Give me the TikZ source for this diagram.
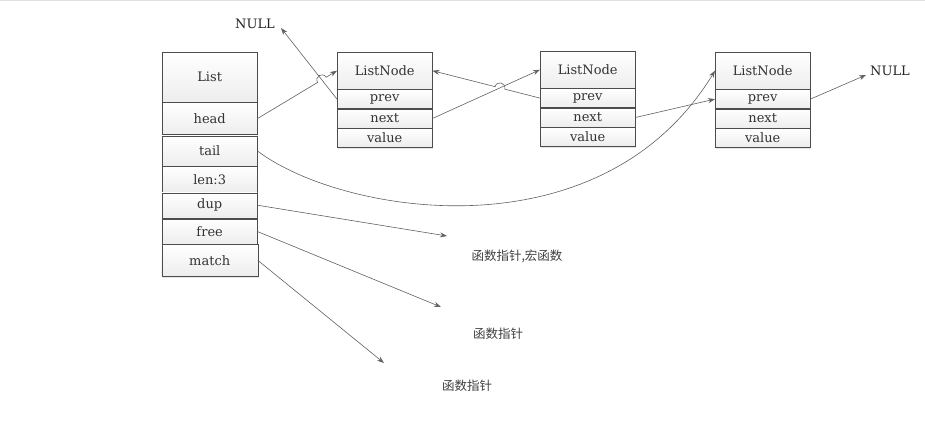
\documentclass[tikz,border=0pt]{standalone}
\usepackage{fontspec}
\setmainfont{DejaVu Serif}
\newfontfamily\cjk{Noto Sans CJK SC}
\usetikzlibrary{positioning,calc,arrows.meta,shadows}
\tikzset{
  cell/.style={draw=gray!60!black, top color=white, bottom color=gray!14, minimum width=95, inner sep=0pt,
    font=\fontsize{13}{15}\selectfont, text=black!80,
    drop shadow={shadow xshift=1.2pt, shadow yshift=-1.2pt, opacity=0.2}},
  link/.style={draw=gray!75!black, line width=0.6pt, -{Stealth[length=7pt,width=5pt]}},
  note/.style={font=\cjk\fontsize{12.5}{14}\selectfont, text=black!75, inner sep=0pt},
  nullnote/.style={font=\fontsize{13}{15}\selectfont, text=black!85, inner sep=0pt}
}
\begin{document}
\begin{tikzpicture}[x=1pt, y=-1pt]
\useasboundingbox (0,0) rectangle (925,440);
\draw[gray!25] (0,0.5) -- (925,0.5);

\node[cell, anchor=north west, minimum height=50] (list) at (162,52) {List};
\node[cell, minimum height=32, below=0pt of list] (head) {head};
\node[cell, minimum height=30, below=0.9pt of head] (tail) {tail};
\node[cell, minimum height=26, below=0pt of tail] (len) {len:3};
\node[cell, minimum height=25, below=0pt of len] (dup) {dup};
\node[cell, minimum height=25, below=0.9pt of dup] (free) {free};
\node[cell, minimum height=32, minimum width=96, below=0pt of free] (match) {match};

\foreach \i/\x/\y in {1/337/52, 2/540/51, 3/715/52} {
  \node[cell, anchor=north west, minimum height=37] (node\i) at (\x,\y) {ListNode};
  \node[cell, minimum height=19, below=0pt of node\i] (prev\i) {prev};
  \node[cell, minimum height=19, below=0pt of prev\i] (next\i) {next};
  \node[cell, minimum height=19, below=0pt of next\i] (value\i) {value};
}

\node[nullnote] (nulla) at (255,24) {NULL};
\node[nullnote] (nullb) at (890,71) {NULL};
\coordinate (nullaend) at (281,28);
\coordinate (nullbend) at (866,75);

\node[note] (note1) at (517,256) {函数指针,宏函数};
\node[note] (note2) at (498,334) {函数指针};
\node[note] (note3) at (467,386) {函数指针};
\coordinate (dupend) at (447,236);
\coordinate (freeend) at (441,307);
\coordinate (matchend) at (384,363);

\draw[link] (prev1.west) -- (nullaend);
\coordinate (x1) at (intersection of head.east--node1.west and prev1.west--nullaend);
\coordinate (h1a) at ($(x1)!5pt!(head.east)$);
\coordinate (h1b) at ($(x1)!5pt!(node1.west)$);
\draw[link] (head.east) -- (h1a) .. controls ($(h1a)!6.7pt!90:(x1)$) and ($(h1b)!6.7pt!-90:(x1)$) .. (h1b) -- (node1.west);

\draw[link] (next1.east) -- (node2.west);
\coordinate (x2) at (intersection of prev2.west--node1.east and next1.east--node2.west);
\coordinate (h2a) at ($(x2)!5pt!(prev2.west)$);
\coordinate (h2b) at ($(x2)!5pt!(node1.east)$);
\draw[link] (prev2.west) -- (h2a) .. controls ($(h2a)!6.7pt!-90:(x2)$) and ($(h2b)!6.7pt!90:(x2)$) .. (h2b) -- (node1.east);

\draw[link] (next2.east) -- (prev3.west);
\draw[link] (prev3.east) -- (nullbend);
\draw[link] (tail.east) .. controls +(83,63) and +(-115,188) .. (node3.west);

\draw[link] (dup.east) -- (dupend);
\draw[link] (free.east) -- (freeend);
\draw[link] (match.east) -- (matchend);
\end{tikzpicture}
\end{document}
